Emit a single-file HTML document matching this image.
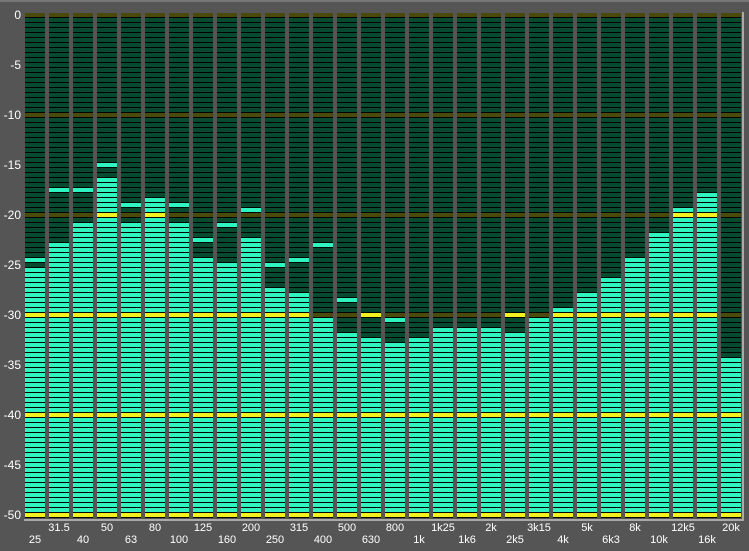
<!DOCTYPE html>
<html><head><style>
body{margin:0;background:#555;width:749px;height:551px;overflow:hidden;position:relative;font-family:"Liberation Sans",sans-serif}
.c{position:absolute;top:13px;width:20px;height:505px;background:#000}
.s{position:absolute;left:0;width:20px;height:4px}
.yl{position:absolute;right:728px;color:#fff;font-size:12px;line-height:12px}
.xl{position:absolute;color:#fff;font-size:11px;line-height:11px;width:40px;text-align:center}
</style></head><body>
<div style="position:absolute;left:0;top:0;width:749px;height:2px;background:#777"></div>
<div style="position:absolute;left:24px;top:519px;width:720px;height:2px;background:#aaa"></div>
<div style="position:absolute;left:742px;top:12px;width:2px;height:509px;background:#aaa"></div>
<div id="root"></div>
<script>
var lv=[-25.5,-23,-21,-16.5,-21,-18.5,-21,-24.5,-25,-22.5,-27.5,-28,-30.5,-32,-32.5,-33,-32.5,-31.5,-31.5,-31.5,-32,-30.5,-29.5,-28,-26.5,-24.5,-22,-19.5,-18,-34.5];
var pk=[-24.5,-17.5,-17.5,-15,-19,null,-19,-22.5,-21,-19.5,-25,-24.5,-23,-28.5,-30,-30.5,null,null,null,null,-30,null,null,null,null,null,null,null,null,null];
var up=["31.5","50","80","125","200","315","500","800","1k25","2k","3k15","5k","8k","12k5","20k"];
var lo=["25","40","63","100","160","250","400","630","1k","1k6","2k5","4k","6k3","10k","16k"];
var h="";
for(var i=0;i<30;i++){
 var x=25+24*i;
 h+='<div class="c" style="left:'+x+'px">';
 for(var k=0;k<=100;k++){
  var d=-k/2, y=k*5, ten=(k%20==0);
  var lit=d<=lv[i]+0.01 || (pk[i]!==null && Math.abs(d-pk[i])<0.01);
  var col=ten?(lit?'#f2f020':'#4a4a0c'):(lit?'#30f4c0':'#074a30');
  h+='<div class="s" style="top:'+y+'px;background:'+col+'"></div>';
 }
 h+='</div>';
}
for(var j=0;j<=10;j++){h+='<div class="yl" style="top:'+(9+j*50)+'px">'+(j==0?'0':'-'+(j*5))+'</div>';}
for(var j=0;j<15;j++){
 h+='<div class="xl" style="left:'+(25+24*(2*j+1)-10)+'px;top:523px">'+up[j]+'</div>';
 h+='<div class="xl" style="left:'+(25+24*(2*j)-10)+'px;top:535px">'+lo[j]+'</div>';
}
document.getElementById('root').innerHTML=h;
</script>
</body></html>
